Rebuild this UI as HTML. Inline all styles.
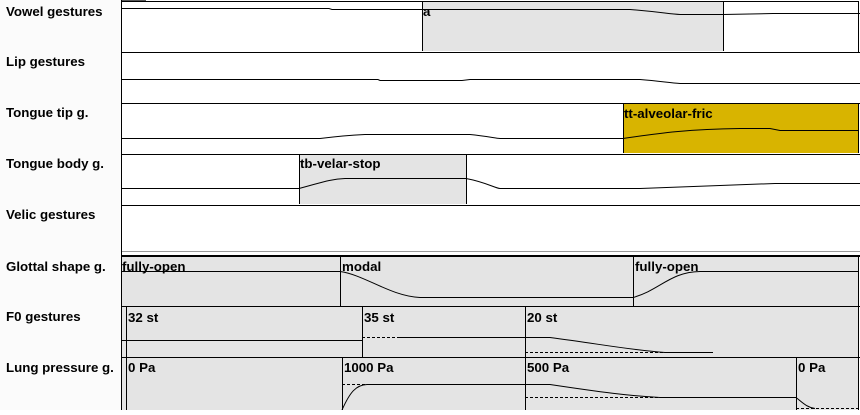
<!DOCTYPE html>
<html><head><style>
body{margin:0;width:860px;height:410px;overflow:hidden;background:#fff}
svg text{font-family:"Liberation Sans",Arial,sans-serif;font-weight:bold;font-size:13.3px;fill:#000}
</style></head><body>
<svg width="860" height="410" xmlns="http://www.w3.org/2000/svg">
<rect x="0" y="0" width="121" height="410" fill="#fbfbfb"/>
<g>
<text x="6" y="16">Vowel gestures</text>
<text x="6" y="66">Lip gestures</text>
<text x="6" y="117">Tongue tip g.</text>
<text x="6" y="168">Tongue body g.</text>
<text x="6" y="219">Velic gestures</text>
<text x="6" y="271">Glottal shape g.</text>
<text x="6" y="321">F0 gestures</text>
<text x="6" y="372">Lung pressure g.</text>
</g>
<rect x="422" y="1" width="301" height="50" fill="#e4e4e4"/>
<rect x="623" y="103" width="235" height="50" fill="#d8b400"/>
<rect x="299" y="154" width="167" height="50" fill="#e4e4e4"/>
<rect x="121" y="257" width="737" height="153" fill="#e4e4e4"/>
<g stroke="#000" stroke-width="1" fill="none">
<rect x="122" y="0" width="24" height="2" fill="#555" stroke="none"/>
<line x1="121" y1="1.5" x2="858" y2="1.5"/>
<line x1="121" y1="52.5" x2="860" y2="52.5"/>
<line x1="121" y1="103.5" x2="860" y2="103.5"/>
<line x1="121" y1="154.5" x2="860" y2="154.5"/>
<line x1="121" y1="205.5" x2="860" y2="205.5"/>
<line x1="121" y1="251.5" x2="860" y2="251.5" stroke="#999"/>
<line x1="121" y1="256" x2="860" y2="256" stroke-width="2"/>
<line x1="121" y1="306.5" x2="860" y2="306.5"/>
<line x1="121" y1="357.5" x2="860" y2="357.5"/>
<line x1="121.5" y1="0" x2="121.5" y2="410"/>
<line x1="858.5" y1="1" x2="858.5" y2="52"/>
<line x1="858.5" y1="257" x2="858.5" y2="410"/>
<line x1="422.5" y1="1" x2="422.5" y2="51"/>
<line x1="723.5" y1="1" x2="723.5" y2="51"/>
<line x1="623.5" y1="103" x2="623.5" y2="153"/>
<line x1="858.5" y1="103" x2="858.5" y2="153"/>
<line x1="299.5" y1="154" x2="299.5" y2="204"/>
<line x1="466.5" y1="154" x2="466.5" y2="204"/>
<line x1="340.5" y1="257" x2="340.5" y2="306"/>
<line x1="633.5" y1="257" x2="633.5" y2="306"/>
<line x1="126.5" y1="307" x2="126.5" y2="410"/>
<line x1="362.5" y1="307" x2="362.5" y2="357"/>
<line x1="525.5" y1="307" x2="525.5" y2="410"/>
<line x1="342.5" y1="357" x2="342.5" y2="410"/>
<line x1="796.5" y1="357" x2="796.5" y2="410"/>
<path d="M121 8.5 L329 8.5 L332 9.5 L630 9.5 C660 12,670 14,680 14.5 L723 14.5 L773 13.5 L860 13.5"/>
<path d="M121 79.5 L378 79.5 L380 80.5 L462 80.5 L470 79.5 L640 79.5 C660 81,670 83,680 83.5 L860 83.5"/>
<path d="M121 138.5 L320 138.5 C340 136,355 135,365 134.5 L470 134.5 C485 136,495 138,500 138.5 L623 138.5 C660 133,690 129,740 128.5 L770 128.5 L780 130.5 L858 130.5"/>
<path d="M121 188.5 L299 188.5 C320 183,330 179,345 178.5 L466 178.5 C485 182,495 188,500 188.5 L640 188.5 L720 185.5 L775 183.5 L860 183.5"/>
<path d="M121 271.5 L340 271.5 C365 275,390 296,420 297.5 L633 297.5 C660 290,670 272,700 271.5 L858 271.5"/>
<path d="M121 340.5 L362 340.5"/>
<path d="M400 337.5 L525 337.5 L550 337.5 C600 344,630 350,665 352.5 L713 352.5"/>
<path d="M362 337.5 L400 337.5" stroke-dasharray="3,2"/>
<path d="M525 352.5 L713 352.5" stroke-dasharray="3,2"/>
<path d="M342 410 C350 392,356 385,367 384.5 L525 384.5 L550 384.5 C600 392,630 396,660 397.5 L796 397.5 C802 402,806 407,815 408.5"/>
<path d="M342 384.5 L367 384.5" stroke-dasharray="3,2"/>
<path d="M525 397.5 L705 397.5" stroke-dasharray="3,2"/>
<path d="M796 408.5 L858 408.5" stroke-dasharray="3,2"/>
</g>
<g>
<text x="423" y="16">a</text>
<text x="624" y="118">tt-alveolar-fric</text>
<text x="300" y="168">tb-velar-stop</text>
<text x="122" y="271">fully-open</text>
<text x="342" y="271">modal</text>
<text x="635" y="271">fully-open</text>
<text x="128" y="322">32 st</text>
<text x="364" y="322">35 st</text>
<text x="527" y="322">20 st</text>
<text x="128" y="372">0 Pa</text>
<text x="344" y="372">1000 Pa</text>
<text x="527" y="372">500 Pa</text>
<text x="798" y="372">0 Pa</text>
</g>
</svg>
</body></html>
